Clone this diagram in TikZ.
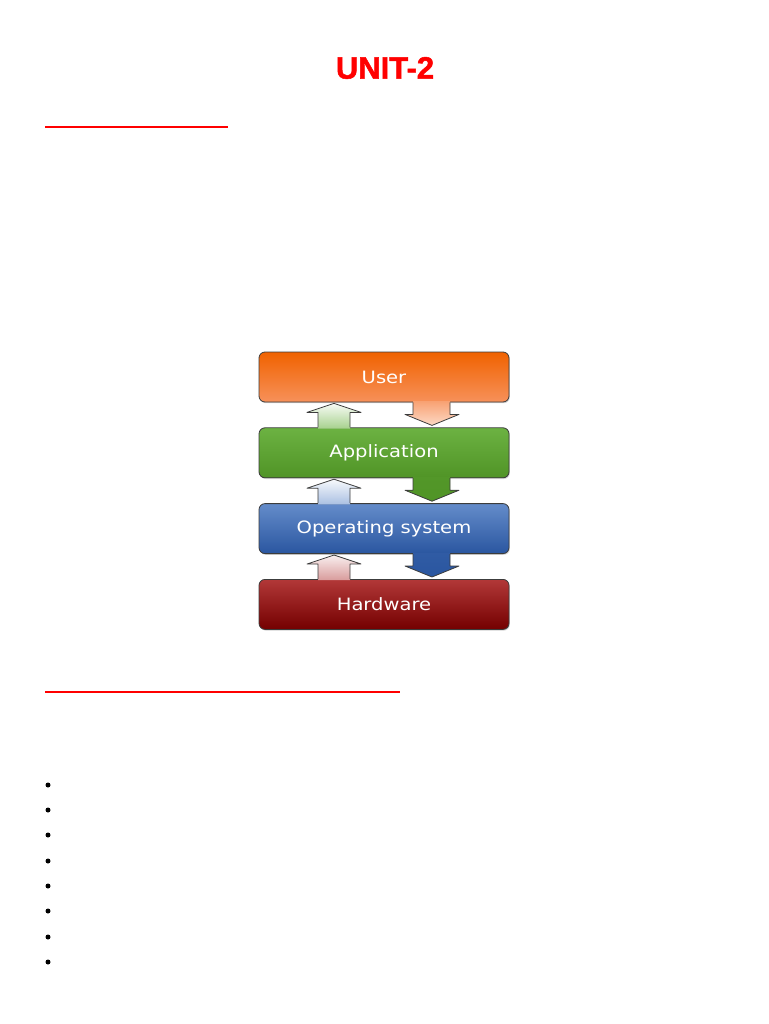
\documentclass[tikz,border=0pt]{standalone}
\usepackage{fontspec}
\usepackage{xcolor}
\usepackage{tikz}
\usetikzlibrary{shapes,arrows,positioning,calc,shadows}
\newfontfamily\boxfont[FakeStretch=1.15]{DejaVu Sans}
\newfontfamily\titlefont[BoldFeatures={FakeBold=1.6}]{Liberation Sans}

\definecolor{unitred}{RGB}{255,0,0}
\definecolor{usertop}{RGB}{240,98,0}
\definecolor{userbot}{RGB}{247,145,90}
\definecolor{apptop}{RGB}{108,178,66}
\definecolor{appbot}{RGB}{80,148,38}
\definecolor{ostop}{RGB}{100,140,202}
\definecolor{osbot}{RGB}{42,86,160}
\definecolor{hwtop}{RGB}{178,56,56}
\definecolor{hwbot}{RGB}{116,0,0}
\definecolor{edge}{RGB}{60,60,60}

% block arrow going up: lower node, upper node, bottom colour, top colour
\newcommand{\uparw}[4]{%
  \shade[bottom color=#3, top color=#4]
    ($(#1.north)+(-66,1.2)$) -- ($(#2.south)+(-66,10)$) -- ($(#2.south)+(-77,10)$)
    -- ($(#2.south)+(-50,1)$) -- ($(#2.south)+(-23,10)$) -- ($(#2.south)+(-34,10)$)
    -- ($(#1.north)+(-34,1.2)$) -- cycle;
  \draw[edge, line width=0.8pt, line join=round]
    ($(#1.north)+(-66,0)$) -- ($(#2.south)+(-66,10)$) -- ($(#2.south)+(-77,10)$)
    -- ($(#2.south)+(-50,1)$) -- ($(#2.south)+(-23,10)$) -- ($(#2.south)+(-34,10)$)
    -- ($(#1.north)+(-34,0)$);}
% block arrow going down: upper node, top colour, bottom colour
\newcommand{\downarw}[3]{%
  \shade[top color=#2, bottom color=#3]
    ($(#1.south)+(29,-1.2)$) -- ($(#1.south)+(29,12)$) -- ($(#1.south)+(21,12)$)
    -- ($(#1.south)+(48,23)$) -- ($(#1.south)+(75,12)$) -- ($(#1.south)+(66,12)$)
    -- ($(#1.south)+(66,-1.2)$) -- cycle;
  \draw[edge, line width=0.8pt, line join=round]
    ($(#1.south)+(29,0)$) -- ($(#1.south)+(29,12)$) -- ($(#1.south)+(21,12)$)
    -- ($(#1.south)+(48,23)$) -- ($(#1.south)+(75,12)$) -- ($(#1.south)+(66,12)$)
    -- ($(#1.south)+(66,0)$);}

\begin{document}
\begin{tikzpicture}[x=1pt,y=-1pt,
    layer/.style={draw=edge, line width=0.8pt, rounded corners=6pt,
      minimum width=250pt, minimum height=50pt, inner sep=0pt, text=white,
      font=\boxfont\fontsize{17}{20}\selectfont,
      drop shadow={shadow xshift=0.8pt, shadow yshift=-1.2pt, opacity=0.35}},
    node distance=25pt]
  \useasboundingbox (0,0) rectangle (768,1024);
  % title
  \node[text=unitred, font=\titlefont\bfseries\fontsize{31}{36}\selectfont] (title) at (385,68) {UNIT-2};
  % heading rules
  \draw[unitred, line width=2pt] (45,127) -- (228,127);
  \draw[unitred, line width=2pt] (45,692) -- (400,692);
  % the layers
  \node[layer, top color=usertop, middle color=usertop!88!userbot, bottom color=userbot] (user) at (384,377) {User};
  \node[layer, below=of user, top color=apptop, bottom color=appbot] (app) {Application};
  \node[layer, below=of app, top color=ostop, middle color=osbot!85!ostop, bottom color=osbot] (os) {Operating system};
  \node[layer, below=of os, top color=hwtop, bottom color=hwbot] (hw) {Hardware};
  % the arrows between layers
  \uparw{app}{user}{apptop!60!white}{apptop!5!white}
  \uparw{os}{app}{ostop!55!white}{ostop!5!white}
  \uparw{hw}{os}{hwtop!50!white}{hwtop!8!white}
  \downarw{user}{userbot!85!white}{userbot!35!white}
  \downarw{app}{appbot!90!apptop}{appbot}
  \downarw{os}{osbot!90!ostop}{osbot}
  % bullets
  \foreach \y in {785,810,835,861,886,911,937,962}
    \fill (48,\y) circle (2.5);
\end{tikzpicture}
\end{document}
